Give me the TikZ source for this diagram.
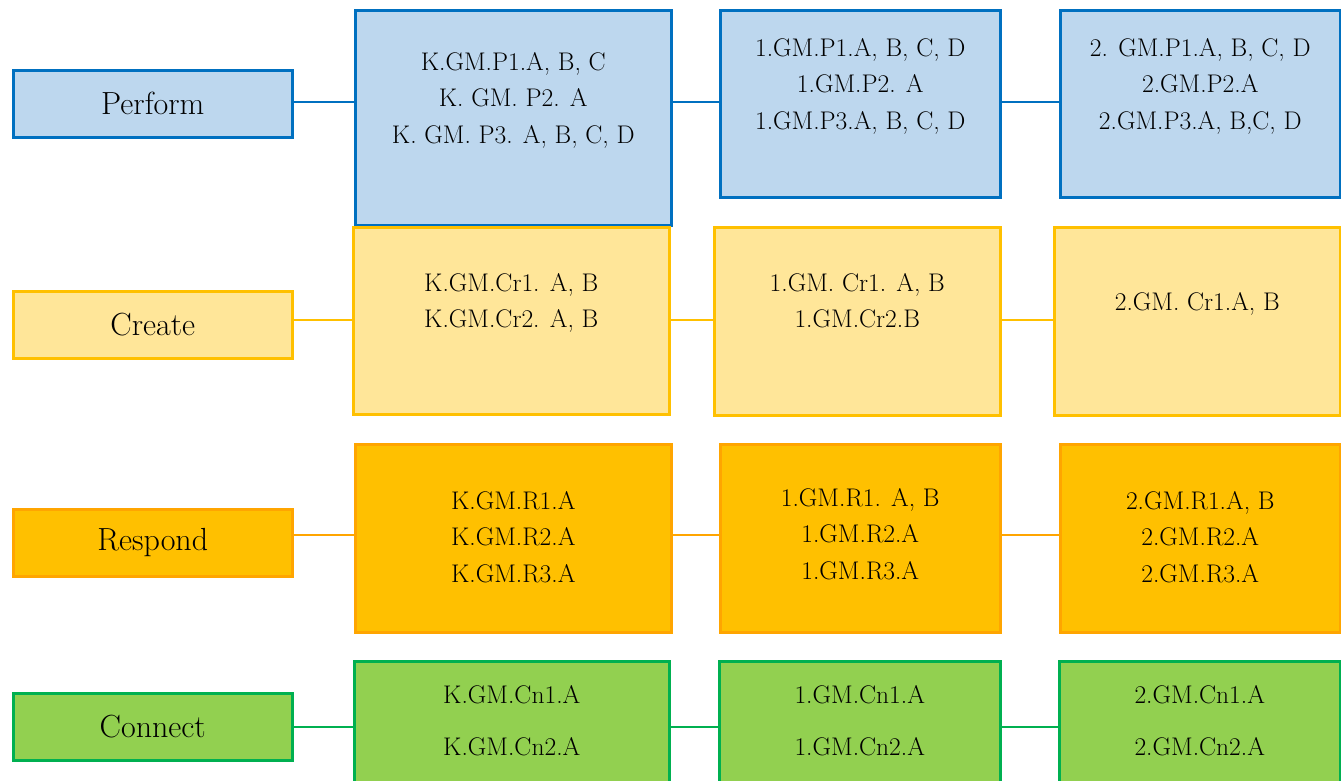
\documentclass[tikz,border=0pt]{standalone}
\usetikzlibrary{positioning}

\definecolor{pdraw}{HTML}{0070C0}
\definecolor{pfill}{HTML}{BDD7EE}
\definecolor{cdraw}{HTML}{FFC000}
\definecolor{cfill}{HTML}{FFE699}
\definecolor{rdraw}{HTML}{FFA500}
\definecolor{rfill}{HTML}{FFC000}
\definecolor{ndraw}{HTML}{00B050}
\definecolor{nfill}{HTML}{92D050}

\begin{document}
\begin{tikzpicture}[
	x=1pt, y=-1pt,
	size/.style args={#1 by #2}{minimum width=#1pt, minimum height=#2pt},
	box/.style={rectangle, anchor=north west, line width=2.5pt, inner sep=0pt},
	perform/.style={box, draw=pdraw, fill=pfill},
	create/.style={box, draw=cdraw, fill=cfill},
	respond/.style={box, draw=rdraw, fill=rfill},
	connect/.style={box, draw=ndraw, fill=nfill},
	lbl/.style={font=\fontsize{32}{36}\selectfont},
	txt/.style={align=center, inner sep=0pt, anchor=north, font=\fontsize{25.5}{36.5}\selectfont},
	link/.style={line width=2.2pt}
]
\useasboundingbox (0,0) rectangle (1341,780);

% row levels
\coordinate (y1) at (0,102);
\coordinate (y2) at (0,320);
\coordinate (y3) at (0,535);
\coordinate (y4) at (0,727);

% Perform
\node[perform,lbl,size=279 by 67] (l1) at (12,69) {Perform};
\node[perform,size=316 by 215] (p1) at (354,9) {};
\node[perform,size=280 by 187] (p2) at (719,9) {};
\node[perform,size=280 by 187] (p3) at (1059,9) {};
\node[txt] (p1t) [below=43pt] at (p1.north) {K.GM.P1.A, B, C\\K. GM. P2. A\\K. GM. P3. A, B, C, D};
\node[txt] (p2t) [below=29pt] at (p2.north) {1.GM.P1.A, B, C, D\\1.GM.P2. A\\1.GM.P3.A, B, C, D};
\node[txt] (p3t) [below=29pt] at (p3.north) {2. GM.P1.A, B, C, D\\2.GM.P2.A\\2.GM.P3.A, B,C, D};

% Create
\node[create,lbl,size=279 by 67] (l2) at (12,290) {Create};
\node[create,size=316 by 187] (c1) at (352,226) {};
\node[create,size=286 by 188] (c2) at (713,226) {};
\node[create,size=286 by 188] (c3) at (1053,226) {};
\node[txt] (c1t) [below=47pt] at (c1.north) {K.GM.Cr1. A, B\\K.GM.Cr2. A, B};
\node[txt] (c2t) [below=47pt] at (c2.north) {1.GM. Cr1. A, B\\1.GM.Cr2.B};
\node[txt] (c3t) [below=66pt] at (c3.north) {2.GM. Cr1.A, B};

% Respond
\node[respond,lbl,size=279 by 67] (l3) at (12,508) {Respond};
\node[respond,size=316 by 188] (r1) at (354,443) {};
\node[respond,size=280 by 188] (r2) at (719,443) {};
\node[respond,size=280 by 188] (r3) at (1059,443) {};
\node[txt] (r1t) [below=48pt] at (r1.north) {K.GM.R1.A\\K.GM.R2.A\\K.GM.R3.A};
\node[txt] (r2t) [below=45pt] at (r2.north) {1.GM.R1. A, B\\1.GM.R2.A\\1.GM.R3.A};
\node[txt] (r3t) [below=48pt] at (r3.north) {2.GM.R1.A, B\\2.GM.R2.A\\2.GM.R3.A};

% Connect
\node[connect,lbl,size=279 by 67] (l4) at (12,692) {Connect};
\node[connect,size=315 by 150] (n1) at (353,660) {};
\node[connect,size=281 by 150] (n2) at (718,660) {};
\node[connect,size=281 by 150] (n3) at (1058,660) {};
\node[txt,font=\fontsize{25.5}{52}\selectfont] (n1t) [below=25pt] at (n1.north) {K.GM.Cn1.A\\K.GM.Cn2.A};
\node[txt,font=\fontsize{25.5}{52}\selectfont] (n2t) [below=25pt] at (n2.north) {1.GM.Cn1.A\\1.GM.Cn2.A};
\node[txt,font=\fontsize{25.5}{52}\selectfont] (n3t) [below=25pt] at (n3.north) {2.GM.Cn1.A\\2.GM.Cn2.A};

% links
\draw[link,pdraw] (l1.east |- y1) -- (p1.west |- y1) (p1.east |- y1) -- (p2.west |- y1) (p2.east |- y1) -- (p3.west |- y1);
\draw[link,cdraw] (l2.east |- y2) -- (c1.west |- y2) (c1.east |- y2) -- (c2.west |- y2) (c2.east |- y2) -- (c3.west |- y2);
\draw[link,rdraw] (l3.east |- y3) -- (r1.west |- y3) (r1.east |- y3) -- (r2.west |- y3) (r2.east |- y3) -- (r3.west |- y3);
\draw[link,ndraw] (l4.east |- y4) -- (n1.west |- y4) (n1.east |- y4) -- (n2.west |- y4) (n2.east |- y4) -- (n3.west |- y4);
\end{tikzpicture}
\end{document}
